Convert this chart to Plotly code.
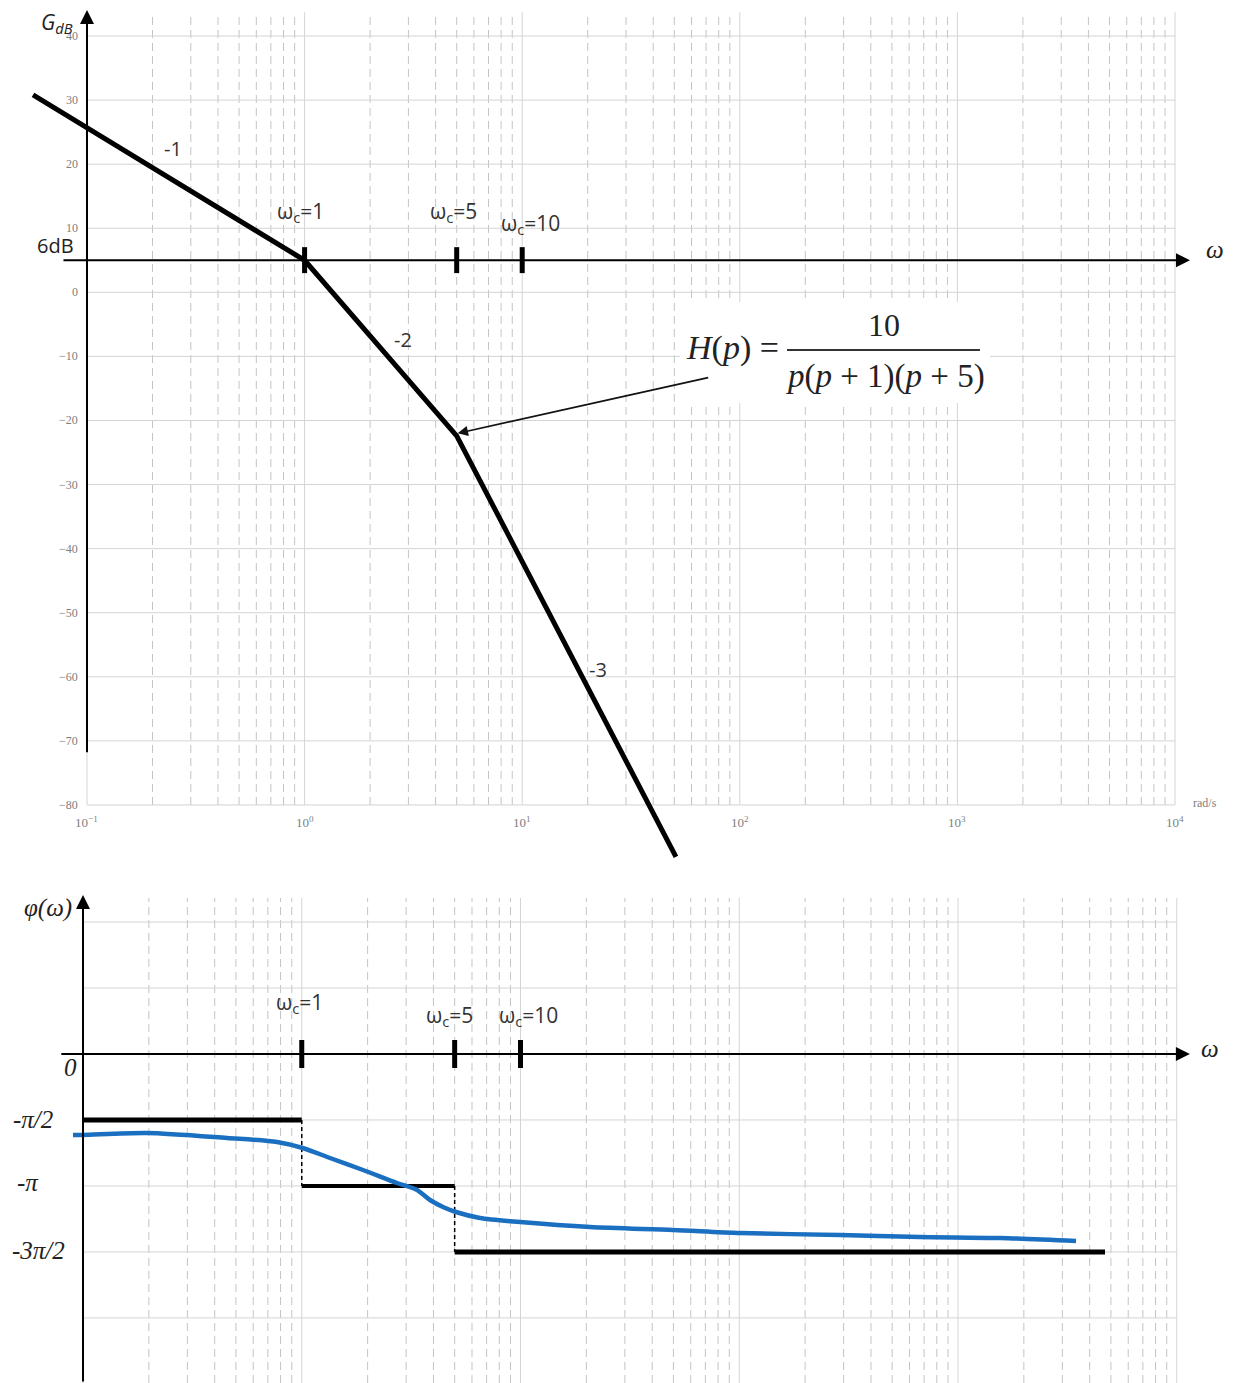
import numpy as np
import plotly.graph_objects as go

OFF = 8                      # page body margin of the html page
W, H = 1234 - OFF, 1383 - OFF

# ---------------- data ----------------
# magnitude asymptote (omega in rad/s, gain in dB)
mag_omega = [0.0565, 1.0, 5.0, 50.9]
mag_db = [30.8, 5.0, -22.4, -88.1]
ref_level_db = 5.0            # level of the drawn "6dB" horizontal axis

break_omegas = [1, 5, 10]
break_labels = ["ω<sub>c</sub>=1", "ω<sub>c</sub>=5", "ω<sub>c</sub>=10"]

slope_labels = ["-1", "-2", "-3"]
slope_label_omega = [0.248, 2.83, 22.3]
slope_label_db = [22.5, -7.4, -58.9]

gain_ticks = [40, 30, 20, 10, 0, -10, -20, -30, -40, -50, -60, -70, -80]
gain_tick_text = ["40", "30", "20", "10", "0", "−10", "−20", "−30", "−40",
                  "−50", "−60", "−70", "−80"]
decades = [-1, 0, 1, 2, 3, 4]
decade_text = ["10<sup>−1</sup>", "10<sup>0</sup>", "10<sup>1</sup>",
               "10<sup>2</sup>", "10<sup>3</sup>", "10<sup>4</sup>"]

# phase: real curve (blue) and asymptotic steps (black)
phase_omega = [0.090, 0.100, 0.196, 0.455, 0.771, 1.01, 1.346, 1.905, 2.725,
               3.365, 3.858, 4.423, 5.07, 6.53, 9.95, 20.8, 49.8, 100.8,
               288.8, 670, 1556, 3463]
phase_rad = [-1.929, -1.929, -1.881, -2.0, -2.095, -2.238, -2.476, -2.762,
             -3.071, -3.238, -3.476, -3.643, -3.762, -3.905, -4.0, -4.119,
             -4.190, -4.262, -4.310, -4.357, -4.381, -4.452]

step_omega = [[0.1, 1.0], [1.0, 5.0], [5.0, 4700.0]]
step_phase = [-np.pi / 2, -np.pi, -3 * np.pi / 2]

phase_grid = [np.pi, np.pi / 2, 0, -np.pi / 2, -np.pi, -3 * np.pi / 2, -2 * np.pi]
phase_tick_text = ["<i>0</i>", "<i>-π/2</i>", "<i>-π</i>", "<i>-3π/2</i>"]
phase_tick_y = [-0.33, -1.57, -3.05, -4.67]
phase_tick_px = [70, 33, 28, 38]

# ---------------- layout constants ----------------
TOP_XR = [-1.3630, 4.2711]
TOP_YR = [-90.15, 44.37]
BOT_XR = [-1.3429, 4.2617]
BOT_YR = [-7.833, 4.381]
SPLIT = 513 / H


def PX(sx):
    return (sx - OFF) / W


def PY(sy):
    return 1 - (sy - OFF) / H


GRID_SOLID = "#d4d4d4"
GRID_DASH = "#c4c4c4"
BLUE = "#1b6fc1"

fig = go.Figure()


def grid(xa, ya, ylo, yhi, hlines):
    xs_s, ys_s, xs_d, ys_d = [], [], [], []
    for d in decades:
        xs_s += [10.0 ** d, 10.0 ** d, None]
        ys_s += [ylo, yhi, None]
        if d < 4:
            for m in range(2, 10):
                xs_d += [m * 10.0 ** d, m * 10.0 ** d, None]
                ys_d += [ylo, yhi, None]
    for v in hlines:
        xs_s += [0.1, 1e4, None]
        ys_s += [v, v, None]
    fig.add_trace(go.Scatter(x=xs_d, y=ys_d, mode="lines", xaxis=xa, yaxis=ya,
                             line=dict(color=GRID_DASH, width=1, dash="8px,5px"),
                             hoverinfo="skip", showlegend=False))
    fig.add_trace(go.Scatter(x=xs_s, y=ys_s, mode="lines", xaxis=xa, yaxis=ya,
                             line=dict(color=GRID_SOLID, width=1),
                             hoverinfo="skip", showlegend=False))


grid("x", "y", -80, 43.7, gain_ticks)
grid("x2", "y2", BOT_YR[0], 3.714, phase_grid)

# ---- magnitude asymptote ----
fig.add_trace(go.Scatter(x=mag_omega, y=mag_db, mode="lines", xaxis="x", yaxis="y",
                         line=dict(color="black", width=5), showlegend=False))

# break ticks
bx, by, bx2, by2 = [], [], [], []
for w in break_omegas:
    bx += [w, w, None]
    by += [ref_level_db + 2.05, ref_level_db - 2.0, None]
    bx2 += [w, w, None]
    by2 += [0.333, -0.333, None]
fig.add_trace(go.Scatter(x=bx, y=by, mode="lines", xaxis="x", yaxis="y",
                         line=dict(color="black", width=5), showlegend=False))
fig.add_trace(go.Scatter(x=bx2, y=by2, mode="lines", xaxis="x2", yaxis="y2",
                         line=dict(color="black", width=5), showlegend=False))

# ---- phase steps ----
for (wx, ph, lw) in zip(step_omega, step_phase, [5, 4, 5]):
    fig.add_trace(go.Scatter(x=wx, y=[ph, ph], mode="lines", xaxis="x2", yaxis="y2",
                             line=dict(color="black", width=lw), showlegend=False))
for i in range(2):
    w = step_omega[i][1]
    fig.add_trace(go.Scatter(x=[w, w], y=[step_phase[i], step_phase[i + 1]],
                             mode="lines", xaxis="x2", yaxis="y2",
                             line=dict(color="black", width=1.5, dash="4px,3px"),
                             showlegend=False))

fig.add_trace(go.Scatter(x=phase_omega, y=phase_rad, mode="lines", xaxis="x2", yaxis="y2",
                         line=dict(color=BLUE, width=4.5, shape="spline", smoothing=0.8),
                         showlegend=False))

ann = []


def arrow(xref, yref, tail, head, width=2, size=1.4):
    ann.append(dict(xref=xref, yref=yref, axref=xref, ayref=yref,
                    x=head[0], y=head[1], ax=tail[0], ay=tail[1], text="",
                    showarrow=True, arrowhead=2, arrowsize=size, arrowwidth=width,
                    arrowcolor="black"))


def label(xref, yref, x, y, text, family, size, color="#222", xanchor="center",
          xshift=0):
    ann.append(dict(xref=xref, yref=yref, x=x, y=y, text=text, showarrow=False,
                    xanchor=xanchor, yanchor="middle", xshift=xshift,
                    font=dict(family=family, size=size, color=color)))


# axes with arrows
arrow("x", "y", (-1, -72), (-1, 44.06))
arrow("x", "y", (-1.115, ref_level_db), (4.069, ref_level_db))
arrow("x2", "y2", (-1.0, BOT_YR[0]), (-1.0, 3.786))
arrow("x2", "y2", (-1.106, 0), (4.06, 0))

# H(p) pointer
ann.append(dict(xref="x", yref="y", x=np.log10(5.05), y=-22.0, ax=252, ay=-56,
                text="", showarrow=True, arrowhead=2, arrowsize=1.3, arrowwidth=1.6,
                arrowcolor="#111"))

SANS = "Open Sans"
SERIF = "Liberation Serif"
TICK = "#808080"

# gain tick labels
for v, t in zip(gain_ticks, gain_tick_text):
    label("paper", "y", PX(80), v, t, SERIF, 12, TICK, xanchor="right")
for d, t in zip(decades, decade_text):
    label("x", "y", d, -82.7, t, SERIF, 13, TICK)
label("paper", "paper", PX(1205), PY(803), "rad/s", SERIF, 12, TICK)

# break labels
for w, t, dx, yv in zip(break_omegas, break_labels, [-4, -3, 8], [12.5, 12.5, 10.7]):
    label("x", "y", np.log10(w), yv, t, SANS, 21, "#333", xshift=dx)
for w, t, dx, yv in zip(break_omegas, break_labels, [-2, -5, 8], [1.214, 0.905, 0.905]):
    label("x2", "y2", np.log10(w), yv, t, SANS, 21, "#333", xshift=dx)

for w, d, t in zip(slope_label_omega, slope_label_db, slope_labels):
    label("x", "y", np.log10(w), d, t, SANS, 20, "#333")

# axis titles
label("paper", "paper", PX(57), PY(23), "<i>G</i><sub><i>dB</i></sub>", SANS, 21)
label("paper", "paper", PX(1215), PY(250), "<i>ω</i>", SERIF, 25)
label("paper", "paper", PX(55), PY(245), "6dB", SANS, 20)
label("paper", "paper", PX(48), PY(908), "<i>φ(ω)</i>", SERIF, 25)
label("paper", "paper", PX(1210), PY(1048), "<i>ω</i>", SERIF, 25)

for t, yv, px in zip(phase_tick_text, phase_tick_y, phase_tick_px):
    label("paper", "y2", PX(px), yv, t, SERIF, 25)

# transfer function
label("paper", "paper", PX(732), PY(348), "<i>H</i>(<i>p</i>) =", SERIF, 34)
label("paper", "paper", PX(884), PY(325), "10", SERIF, 32)
label("paper", "paper", PX(885), PY(376), "<i>p</i>(<i>p</i> + 1)(<i>p</i> + 5)",
      SERIF, 33)

shapes = [
    dict(type="rect", xref="paper", yref="paper", x0=PX(680), x1=PX(990),
         y0=PY(403), y1=PY(302), fillcolor="white", line=dict(width=0),
         layer="above"),
    dict(type="line", xref="paper", yref="paper", x0=PX(787), x1=PX(980),
         y0=PY(350), y1=PY(350), line=dict(color="#333", width=2),
         layer="above"),
]

ax_common = dict(visible=False, showgrid=False, zeroline=False, fixedrange=True)
fig.update_layout(
    width=W, height=H, margin=dict(l=0, r=0, t=0, b=0),
    paper_bgcolor="white", plot_bgcolor="white", showlegend=False,
    xaxis=dict(type="log", range=TOP_XR, domain=[0, 1], anchor="y", **ax_common),
    yaxis=dict(range=TOP_YR, domain=[SPLIT, 1], anchor="x", **ax_common),
    xaxis2=dict(type="log", range=BOT_XR, domain=[0, 1], anchor="y2", **ax_common),
    yaxis2=dict(range=BOT_YR, domain=[0, SPLIT], anchor="x2", **ax_common),
    annotations=ann, shapes=shapes,
)

fig.write_html("out.html")
